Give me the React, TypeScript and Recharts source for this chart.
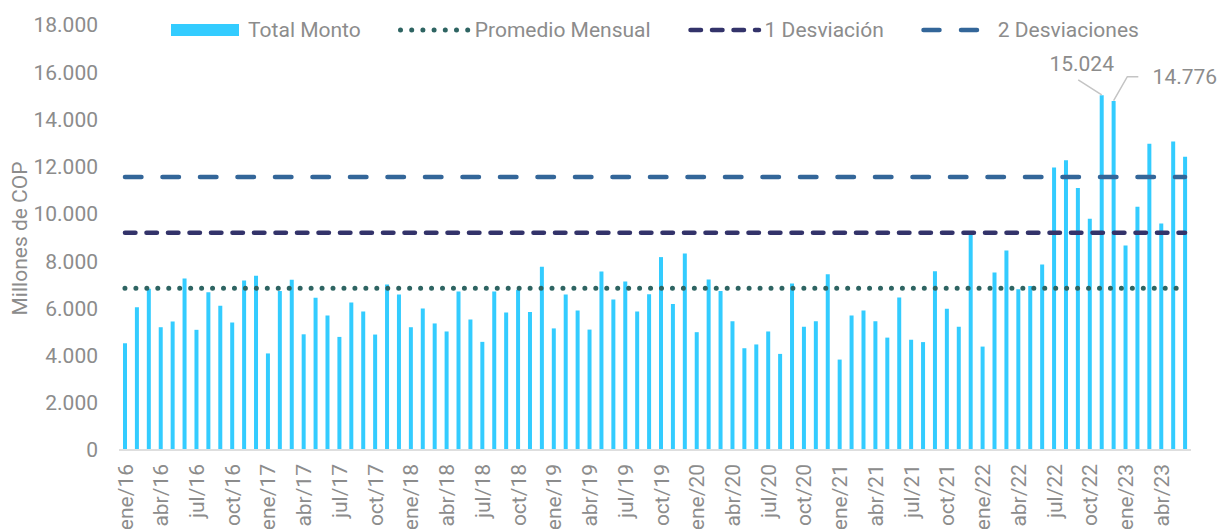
// Monthly totals with mean and standard-deviation bands
import React from 'react';
import {
  ComposedChart,
  Bar,
  Line,
  XAxis,
  YAxis,
  Legend,
  Label,
  LabelList,
} from 'recharts';

// Month labels and years
const MONTH_NAMES = ['ene', 'feb', 'mar', 'abr', 'may', 'jun', 'jul', 'ago', 'sep', 'oct', 'nov', 'dic'];
const YEARS = ['16', '17', '18', '19', '20', '21', '22', '23'];

// Total monto per month (millones de COP)
const monto2016 = [4520, 6050, 6830, 5200, 5440, 7260, 5090, 6680, 6110, 5400, 7180, 7380];
const monto2017 = [4090, 6730, 7210, 4900, 6450, 5700, 4790, 6250, 5870, 4890, 7010, 6590];
const monto2018 = [5200, 5990, 5360, 5020, 6710, 5530, 4580, 6710, 5820, 6790, 5840, 7760];
const monto2019 = [5150, 6590, 5910, 5100, 7560, 6370, 7140, 5870, 6600, 8170, 6180, 8320];
const monto2020 = [4990, 7220, 6730, 5450, 4310, 4470, 5020, 4070, 7050, 5220, 5450, 7440];
const monto2021 = [3830, 5700, 5910, 5450, 4760, 6460, 4670, 4570, 7570, 5980, 5220, 9240];
const monto2022 = [4380, 7520, 8450, 6810, 6950, 7860, 11960, 12270, 11100, 9790, 15024, 14776];
const monto2023 = [8660, 10300, 12970, 9590, 13070, 12420];

// Reference levels
const PROMEDIO_MENSUAL = 6850;
const UNA_DESVIACION = 9205;
const DOS_DESVIACIONES = 11565;

// Months whose value is written above the bar, and which side the note sits
const NOTAS: Record<string, 'izq' | 'der'> = { 'nov/22': 'izq', 'dic/22': 'der' };

const Y_TICKS = [0, 2000, 4000, 6000, 8000, 10000, 12000, 14000, 16000, 18000];

const BAR_COLOR = '#33CCFF';
const PROMEDIO_COLOR = '#2E6462';
const DESV1_COLOR = '#33336A';
const DESV2_COLOR = '#336699';
const TEXT_GREY = '#8C8C8C';
const FONT_SIZE = 21;

const montos = [
  ...monto2016, ...monto2017, ...monto2018, ...monto2019,
  ...monto2020, ...monto2021, ...monto2022, ...monto2023,
];

const data = montos.map((monto, i) => {
  const mes = `${MONTH_NAMES[i % 12]}/${YEARS[Math.floor(i / 12)]}`;
  return {
    mes,
    monto,
    promedio: PROMEDIO_MENSUAL,
    desv1: UNA_DESVIACION,
    desv2: DOS_DESVIACIONES,
  };
});

const formatMiles = (v: number) => String(v).replace(/\B(?=(\d{3})+(?!\d))/g, '.');

// Rotated month tick
const MonthTick = ({ x, y, payload }: any) => (
  <text
    x={x}
    y={y}
    transform={`rotate(-90, ${x}, ${y})`}
    textAnchor="end"
    dy="0.36em"
    fill={TEXT_GREY}
    fontSize={FONT_SIZE}
  >
    {payload.value}
  </text>
);

// Value note with a leader line to the bar top
const renderNota = (props: any) => {
  const { index, value } = props;
  const row = data[index];
  if (!row || !NOTAS[row.mes]) return null;
  const vb = props.viewBox ?? props;
  const cx = vb.x + vb.width / 2;
  const top = vb.y;
  const texto = formatMiles(value);
  if (NOTAS[row.mes] === 'izq') {
    return (
      <g>
        <path d={`M${cx - 23.5},${top - 15.5} L${cx},${top - 0.5}`} stroke="#C4C4C4" strokeWidth={1.5} fill="none" />
        <text x={cx - 20} y={top - 24} textAnchor="middle" fill={TEXT_GREY} fontSize={FONT_SIZE}>
          {texto}
        </text>
      </g>
    );
  }
  return (
    <g>
      <path
        d={`M${cx},${top - 0.5} L${cx + 13.7},${top - 24.4} L${cx + 24.7},${top - 24.4}`}
        stroke="#C4C4C4"
        strokeWidth={1.5}
        fill="none"
      />
      <text x={cx + 39} y={top - 16.7} textAnchor="start" fill={TEXT_GREY} fontSize={FONT_SIZE}>
        {texto}
      </text>
    </g>
  );
};

const legendItems = [
  {
    label: 'Total Monto',
    icon: <rect x={0} y={1} width={68} height={12} fill={BAR_COLOR} />,
  },
  {
    label: 'Promedio Mensual',
    icon: (
      <line x1={2.5} x2={70} y1={7} y2={7} stroke={PROMEDIO_COLOR} strokeWidth={5}
        strokeDasharray="0 11.2" strokeLinecap="round" />
    ),
  },
  {
    label: '1 Desviación',
    icon: (
      <line x1={2.5} x2={71} y1={7} y2={7} stroke={DESV1_COLOR} strokeWidth={4.5}
        strokeDasharray="10.5 11" strokeLinecap="round" />
    ),
  },
  {
    label: '2 Desviaciones',
    icon: (
      <line x1={2.5} x2={70} y1={7} y2={7} stroke={DESV2_COLOR} strokeWidth={4.5}
        strokeDasharray="16 21.5" strokeLinecap="round" />
    ),
  },
];

const LegendRow = () => (
  <div
    style={{
      display: 'flex',
      justifyContent: 'center',
      alignItems: 'center',
      gap: 37,
      fontSize: FONT_SIZE,
      lineHeight: '24px',
      color: TEXT_GREY,
      whiteSpace: 'nowrap',
    }}
  >
    {legendItems.map((item) => (
      <div key={item.label} style={{ display: 'flex', alignItems: 'center' }}>
        <svg width={70} height={14} style={{ marginRight: 7, overflow: 'visible' }}>
          {item.icon}
        </svg>
        <span>{item.label}</span>
      </div>
    ))}
  </div>
);

export default function App() {
  return (
    <div
      style={{
        width: 1226,
        height: 529,
        overflow: 'hidden',
        position: 'relative',
        fontFamily: 'Roboto, sans-serif',
        background: '#fff',
      }}
    >
      <style>{'body { margin: 0; }'}</style>
      <ComposedChart
        width={1226}
        height={529}
        data={data}
        margin={{ top: 25, right: 35, left: 0, bottom: 0 }}
      >
        <XAxis
          dataKey="mes"
          interval={2}
          height={79}
          tickLine={false}
          tickMargin={8}
          axisLine={{ stroke: '#DEDEDE', strokeWidth: 2 }}
          tick={<MonthTick />}
        />
        <YAxis
          width={119}
          domain={[0, 18000]}
          ticks={Y_TICKS}
          tickFormatter={formatMiles}
          tickLine={false}
          axisLine={false}
          tickMargin={15}
          tick={{ fill: TEXT_GREY, fontSize: FONT_SIZE }}
        >
          <Label
            content={({ viewBox }: any) => {
              const cx = viewBox.x + 27;
              const cy = viewBox.y + viewBox.height / 2 + 1;
              return (
                <text
                  x={cx}
                  y={cy}
                  transform={`rotate(-90, ${cx}, ${cy})`}
                  textAnchor="middle"
                  fill={TEXT_GREY}
                  fontSize={FONT_SIZE}
                >
                  Millones de COP
                </text>
              );
            }}
          />
        </YAxis>
        <Legend
          layout="horizontal"
          verticalAlign="middle"
          align="center"
          wrapperStyle={{ top: 18, left: 119, width: 1072 }}
          content={<LegendRow />}
        />
        <Bar dataKey="monto" name="Total Monto" fill={BAR_COLOR} barSize={4} isAnimationActive={false}>
          <LabelList dataKey="monto" content={renderNota} />
        </Bar>
        <Line
          dataKey="promedio"
          name="Promedio Mensual"
          stroke={PROMEDIO_COLOR}
          strokeWidth={5}
          strokeDasharray="0 10.95"
          strokeLinecap="round"
          dot={false}
          activeDot={false}
          isAnimationActive={false}
        />
        <Line
          dataKey="desv1"
          name="1 Desviación"
          stroke={DESV1_COLOR}
          strokeWidth={4.5}
          strokeDasharray="10.5 11"
          strokeLinecap="round"
          dot={false}
          activeDot={false}
          isAnimationActive={false}
        />
        <Line
          dataKey="desv2"
          name="2 Desviaciones"
          stroke={DESV2_COLOR}
          strokeWidth={4.5}
          strokeDasharray="16.5 21"
          strokeLinecap="round"
          dot={false}
          activeDot={false}
          isAnimationActive={false}
        />
      </ComposedChart>
    </div>
  );
}
